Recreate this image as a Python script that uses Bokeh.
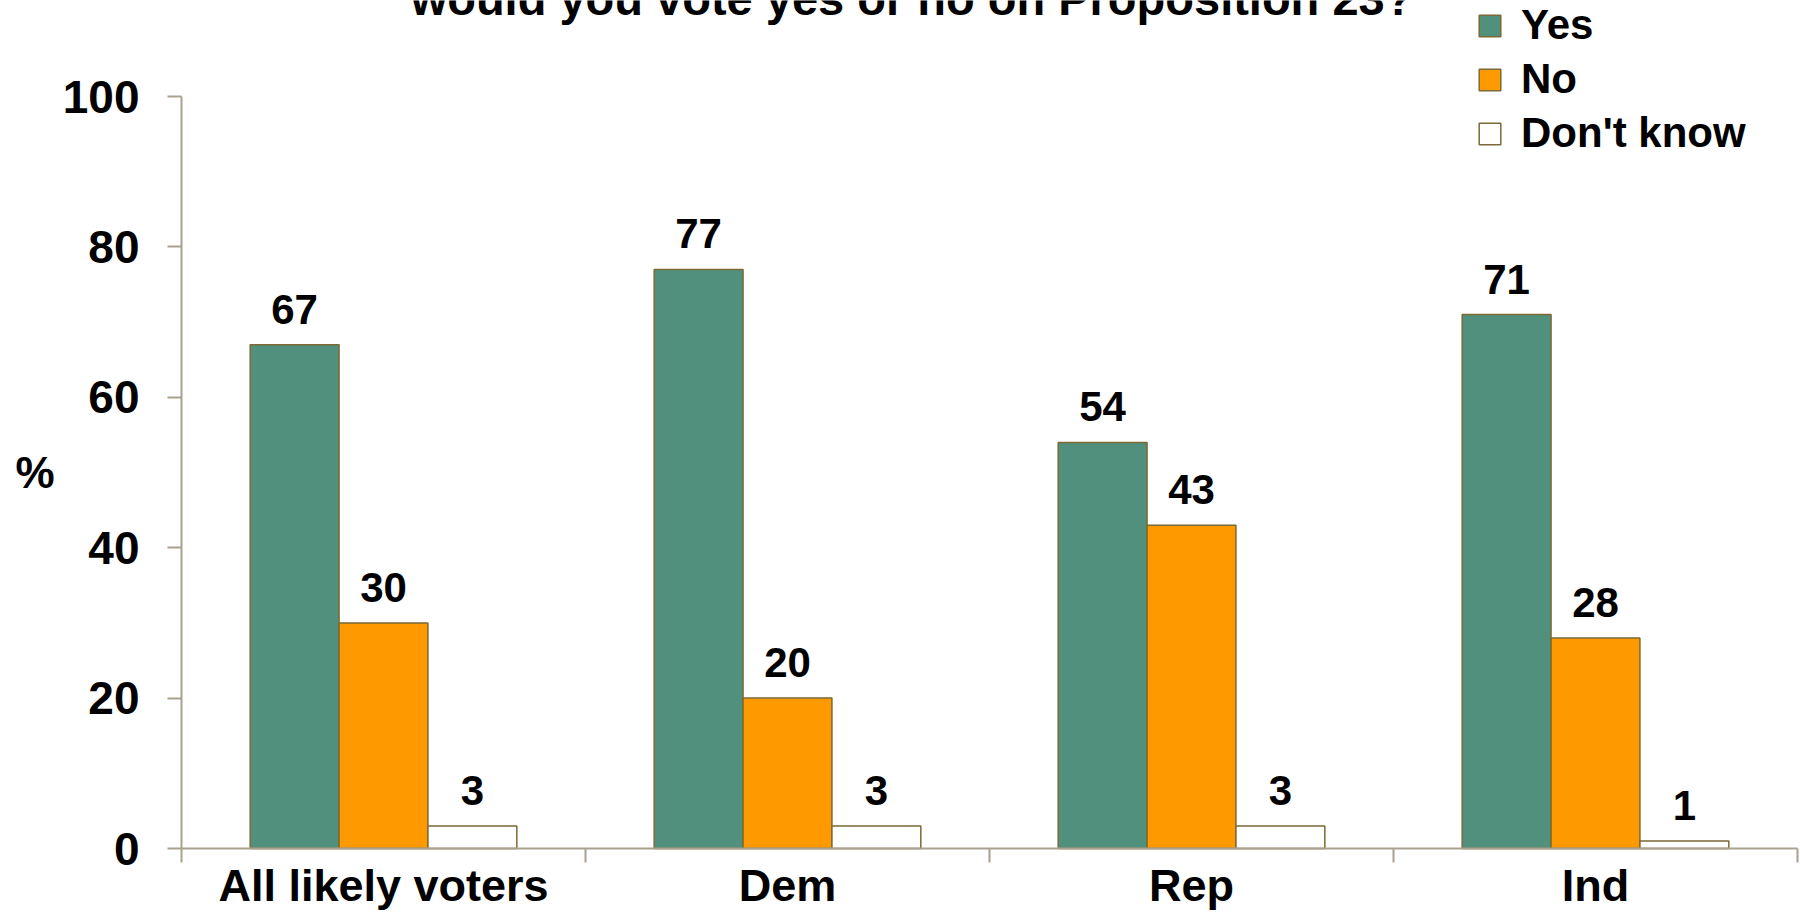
from bokeh.plotting import figure
from bokeh.models import (ColumnDataSource, FixedTicker, Range1d, Legend, LegendItem,
                          LabelSet, Label)
from bokeh.core.properties import value
from bokeh.transform import dodge
from bokeh.embed import file_html
from bokeh.resources import INLINE

# ---- data ----
categories = ["All likely voters", "Dem", "Rep", "Ind"]
yes = [67, 77, 54, 71]
no = [30, 20, 43, 28]
dont_know = [3, 3, 3, 1]
series_names = ["Yes", "No", "Don't know"]
y_ticks = [0, 20, 40, 60, 80, 100]
title_text = "would you vote yes or no on Proposition 23?"
y_label = "%"

# ---- style / layout ----
FONT = "Liberation Sans"
AXIS_COLOR = "#aaa290"
BAR_LINE = "#7b6a34"
colors = ["#50907d", "#ff9900", "#ffffff"]

W, H = 1800, 913
# pixel positions of the data area inside the canvas
PX_LEFT, PX_RIGHT, PX_TOP, PX_BOTTOM = 181, 1797, 96, 848
n_cat = len(categories)
Y_MAX = 100
ux = (PX_RIGHT - PX_LEFT) / n_cat          # px per category
uy = (PX_BOTTOM - PX_TOP) / Y_MAX          # px per %
x_range = Range1d(-PX_LEFT / ux, n_cat + (W - PX_RIGHT) / ux)
y_range = Range1d(-(H - PX_BOTTOM) / uy, Y_MAX + PX_TOP / uy)

centers = [i + 0.5 for i in range(n_cat)]
src = ColumnDataSource(dict(
    x=centers, yes=yes, no=no, dk=dont_know,
    yes_l=[str(v) for v in yes], no_l=[str(v) for v in no], dk_l=[str(v) for v in dont_know],
))

p = figure(width=W, height=H, output_backend="svg", toolbar_location=None,
           x_range=x_range, y_range=y_range,
           min_border_top=0, min_border_left=0, min_border_right=0, min_border_bottom=0)
p.outline_line_color = None
p.xgrid.grid_line_color = None
p.ygrid.grid_line_color = None
p.background_fill_color = "white"
p.border_fill_color = "white"

bw = 0.22
offsets = [-bw, 0.0, bw]
fields = ["yes", "no", "dk"]
renderers = []
for f, off, c in zip(fields, offsets, colors):
    r = p.vbar(x=dodge("x", off), top=f, bottom=0, width=bw, source=src,
               fill_color=c, line_color=BAR_LINE, line_width=1.5)
    renderers.append(r)
    p.add_layout(LabelSet(x=dodge("x", off), y=f, text=f + "_l", source=src,
                          y_offset=21, text_align="center", text_baseline="alphabetic",
                          text_font=value(FONT), text_font_style="bold",
                          text_font_size="42px", text_color="black"))

# x axis (fixed at y = 0, limited to the categories)
xa = p.xaxis[0]
xa.fixed_location = 0
xa.bounds = (0, n_cat)
xa.ticker = FixedTicker(ticks=centers, minor_ticks=list(range(n_cat + 1)))
xa.major_label_overrides = {c: n for c, n in zip(centers, categories)}
xa.major_tick_out = 0
xa.major_tick_in = 0
xa.minor_tick_out = 14
xa.minor_tick_in = 0
xa.minor_tick_line_color = AXIS_COLOR
xa.minor_tick_line_width = 2
xa.axis_line_color = AXIS_COLOR
xa.axis_line_width = 2
xa.major_label_standoff = -3
xa.major_label_text_font = FONT
xa.major_label_text_font_style = "bold"
xa.major_label_text_font_size = "45px"
xa.major_label_text_color = "black"

# y axis (fixed at x = 0)
ya = p.yaxis[0]
ya.fixed_location = 0
ya.bounds = (0, Y_MAX)
ya.ticker = FixedTicker(ticks=y_ticks, minor_ticks=[])
ya.major_tick_out = 14
ya.major_tick_in = 0
ya.major_tick_line_color = AXIS_COLOR
ya.major_tick_line_width = 2
ya.axis_line_color = AXIS_COLOR
ya.axis_line_width = 2
ya.major_label_standoff = 28
ya.major_label_text_font = FONT
ya.major_label_text_font_style = "bold"
ya.major_label_text_font_size = "46px"
ya.major_label_text_color = "black"

p.add_layout(Label(x=(15 - PX_LEFT) / ux, y=Y_MAX / 2, text=y_label, text_align="left",
                   text_baseline="middle", text_font=FONT, text_font_style="bold",
                   text_font_size="44px", text_color="black"))

p.add_layout(Label(x=(911.5 - PX_LEFT) / ux, y=Y_MAX + (PX_TOP + 2) / uy, text=title_text,
                   text_align="center", text_baseline="alphabetic", text_font=FONT,
                   text_font_style="bold", text_font_size="47px", text_color="black"))

legend = Legend(items=[LegendItem(label=n, renderers=[r]) for n, r in zip(series_names, renderers)],
                location=(1476, H - 157), orientation="vertical",
                glyph_width=27, glyph_height=27, label_standoff=18, spacing=6,
                padding=0, margin=0, border_line_color=None, background_fill_alpha=0,
                label_text_font=FONT, label_text_font_style="bold", label_text_font_size="42px",
                label_text_color="black")
p.add_layout(legend)

open("out.html", "w").write(file_html(p, INLINE))
